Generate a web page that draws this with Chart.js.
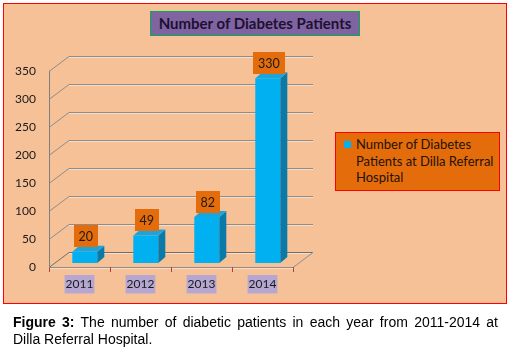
<!DOCTYPE html>
<html><head><meta charset="utf-8">
<script src="https://cdn.jsdelivr.net/npm/chart.js@4"></script>
<style>
html,body{margin:0;padding:0;background:#fff;width:511px;height:351px;overflow:hidden;}
#frame{position:absolute;left:3px;top:3px;width:502px;height:299px;border:1px solid #f00;background:#F7C197;}
#cv{position:absolute;left:0;top:0;}
#title{position:absolute;left:150px;top:11px;width:208px;height:23px;border:1px solid #00B050;background:#8064A2;color:#1d1030;font:bold 15px Lato;text-align:center;line-height:23px;}
#legend{position:absolute;left:335px;top:132px;width:163px;height:57px;border:1px solid #f00;background:#E46C0A;color:#231208;font:13px Lato;}
#legend .sw{position:absolute;left:8px;top:8px;width:7px;height:7px;background:#00B0F0;}
#legend .tx{position:absolute;left:20px;top:3px;line-height:16.5px;white-space:nowrap;}
#caption{position:absolute;left:13px;top:314px;width:485px;font:14px "Liberation Sans",Arial,sans-serif;line-height:17px;text-align:justify;color:#000;}
</style></head>
<body>
<div id="frame"></div>
<canvas id="cv" width="511" height="351"></canvas>
<div id="title">Number of Diabetes Patients</div>
<div id="legend"><div class="sw"></div><div class="tx" id="legtx"></div></div>
<div id="caption"><b>Figure 3:</b> The number of diabetic patients in each year from 2011-2014 at Dilla Referral Hospital.</div>
<script>
const categories = ['2011', '2012', '2013', '2014'];
const patients = [20, 49, 82, 330];
const seriesLines = ['Number of Diabetes', 'Patients at Dilla Referral', 'Hospital'];
const yMin = 0, yMax = 350, yStep = 50;

document.getElementById('legtx').innerHTML = seriesLines.join('<br>');

const DEPTH = {dx: 20, dy: -15};
const SHIFT = {dx: 5.3, dy: -4};
const BDEPTH = {dx: 7, dy: -6};

const threeD = {
  id: 'threeD',
  beforeDraw(chart) {
    const {ctx, chartArea: a, scales: {y}} = chart;
    ctx.save();
    ctx.lineWidth = 1;
    y.ticks.forEach(t => {
      const py = Math.round(y.getPixelForValue(t.value)) + 0.5;
      ctx.strokeStyle = t.value === 0 ? '#6e6e6e' : '#8c8c8c';
      ctx.beginPath();
      ctx.moveTo(a.left, py);
      ctx.lineTo(a.left + DEPTH.dx, py + DEPTH.dy);
      ctx.lineTo(a.right + DEPTH.dx, py + DEPTH.dy);
      ctx.stroke();
      ctx.strokeStyle = 'rgba(255,255,255,0.45)';
      ctx.beginPath();
      ctx.moveTo(a.left + DEPTH.dx, py + DEPTH.dy + 1);
      ctx.lineTo(a.right + DEPTH.dx, py + DEPTH.dy + 1);
      ctx.stroke();
    });
    const p0 = Math.round(y.getPixelForValue(0)) + 0.5;
    ctx.strokeStyle = '#8c8c8c';
    ctx.beginPath();
    ctx.moveTo(a.left, p0);
    ctx.lineTo(a.right, p0);
    ctx.lineTo(a.right + DEPTH.dx, p0 + DEPTH.dy);
    ctx.stroke();
    ctx.strokeStyle = 'rgba(255,255,255,0.45)';
    ctx.beginPath();
    ctx.moveTo(a.left, p0 + 1);
    ctx.lineTo(a.right, p0 + 1);
    ctx.stroke();
    ctx.restore();
  },
  beforeDatasetsDraw(chart) {
    chart.ctx.save();
    chart.ctx.translate(SHIFT.dx, SHIFT.dy);
  },
  afterDatasetsDraw(chart) {
    const ctx = chart.ctx;
    const meta = chart.getDatasetMeta(0);
    meta.data.forEach(el => {
      const {x, y, base, width} = el.getProps(['x', 'y', 'base', 'width'], true);
      const l = x - width / 2, r = x + width / 2;
      ctx.fillStyle = '#0a7aa8';
      ctx.beginPath();
      ctx.moveTo(r, y); ctx.lineTo(r + BDEPTH.dx, y + BDEPTH.dy);
      ctx.lineTo(r + BDEPTH.dx, base + BDEPTH.dy); ctx.lineTo(r, base);
      ctx.closePath(); ctx.fill();
      ctx.fillStyle = '#1aa6dc';
      ctx.beginPath();
      ctx.moveTo(l, y); ctx.lineTo(l + BDEPTH.dx, y + BDEPTH.dy);
      ctx.lineTo(r + BDEPTH.dx, y + BDEPTH.dy); ctx.lineTo(r, y);
      ctx.closePath(); ctx.fill();
    });
    ctx.restore();
    // data labels
    ctx.save();
    ctx.font = '12.5px Lato';
    ctx.textAlign = 'center';
    ctx.textBaseline = 'middle';
    meta.data.forEach((el, i) => {
      const {x, y} = el.getProps(['x', 'y'], true);
      const txt = String(patients[i]);
      const w = ctx.measureText(txt).width + 10, h = 22;
      const cx = x + SHIFT.dx + 1;
      const bottom = y + SHIFT.dy - 4.5;
      ctx.fillStyle = '#E46C0A';
      ctx.fillRect(Math.round(cx - w / 2), Math.round(bottom - h), Math.round(w), h);
      ctx.fillStyle = '#1a1a1a';
      ctx.fillText(txt, cx, Math.round(bottom - h) + h / 2 + 1);
    });
    ctx.restore();
  }
};

new Chart(document.getElementById('cv'), {
  type: 'bar',
  data: {
    labels: categories,
    datasets: [{
      label: seriesLines.join(' '),
      data: patients,
      backgroundColor: '#00B0F0',
      borderWidth: 0,
      categoryPercentage: 1,
      barPercentage: 0.41,
      clip: false
    }]
  },
  options: {
    responsive: false,
    animation: false,
    layout: {padding: {left: 0, top: 71, right: 218, bottom: 0}},
    plugins: {legend: {display: false}, title: {display: false}, tooltip: {enabled: false}},
    scales: {
      x: {
        offset: true,
        grid: {display: true, drawOnChartArea: false, drawTicks: true, tickLength: 5, offset: true, color: '#b5403a'},
        border: {display: false},
        ticks: {color: '#1a1a1a', font: {family: 'Lato', size: 12}, padding: 5, maxRotation: 0,
          showLabelBackdrop: true, backdropColor: '#B5A6D2', backdropPadding: {x: 1, y: 2}},
        afterFit(s) { s.height = 84; }
      },
      y: {
        min: yMin, max: yMax,
        ticks: {stepSize: yStep, color: '#1a1a1a', font: {family: 'Lato', size: 12}, padding: 13},
        grid: {display: false, drawTicks: false},
        border: {display: true, color: '#7f7f7f', width: 1},
        afterFit(s) { s.width = 49; }
      }
    }
  },
  plugins: [threeD]
});
</script>
</body></html>
